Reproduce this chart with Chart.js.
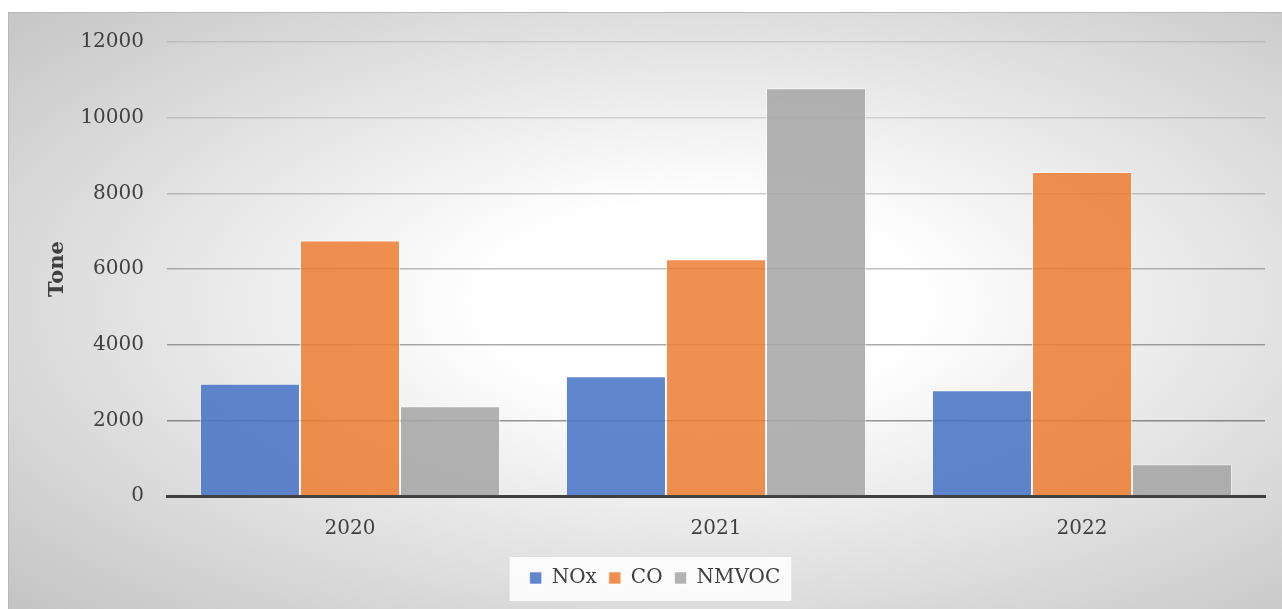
<!DOCTYPE html>
<html>
<head>
<meta charset="utf-8">
<title>Emissions by year</title>
<script src="https://cdn.jsdelivr.net/npm/chart.js@4.4.1/dist/chart.umd.min.js"></script>
<style>
  html, body { margin: 0; padding: 0; background: #ffffff; }
  #wrap { position: relative; width: 1282px; height: 609px; overflow: hidden; }
  #bg {
    position: absolute; left: 8px; top: 12px; width: 1290px; height: 610px;
    border-top: 1px solid #b8b8b8; border-left: 1px solid #b8b8b8;
    background: radial-gradient(ellipse farthest-corner at 692px 290px, #ffffff 0%, #ffffff 22%, #c2c2c2 100%);
  }
  #chart { position: absolute; left: 0; top: 0; }
</style>
</head>
<body>
<div id="wrap">
  <div id="bg"></div>
  <canvas id="chart" width="1282" height="609"></canvas>
</div>
<script>
// Data
const years = ['2020', '2021', '2022'];
const noxValues = [2970, 3165, 2795];
const coValues = [6755, 6260, 8565];
const nmvocValues = [2370, 10780, 840];

// Styles
const TEXT_COLOR = '#404040';
const SERIES_COLORS = {
  nox: 'rgba(68, 114, 196, 0.85)',
  co: 'rgba(237, 125, 49, 0.85)',
  nmvoc: 'rgba(165, 165, 165, 0.85)'
};
// gridlines get darker toward the bottom of the plot
const GRID_ALPHA = { 2000: 0.40, 4000: 0.33, 6000: 0.26, 8000: 0.19, 10000: 0.12, 12000: 0.10 };

/**
 * Paint the white box behind the legend items
 */
const legendBackground = {
  id: 'legendBackground',
  beforeDraw(chart) {
    const boxes = chart.legend && chart.legend.legendHitBoxes;
    if (!boxes || !boxes.length) return;
    const minX = Math.min(...boxes.map(b => b.left));
    const maxX = Math.max(...boxes.map(b => b.left + b.width));
    const top = boxes[0].top;
    const bottom = boxes[0].top + boxes[0].height;
    const ctx = chart.ctx;
    ctx.save();
    ctx.fillStyle = 'rgba(255, 255, 255, 0.85)';
    ctx.fillRect(minX - 20, top - 11, (maxX + 11) - (minX - 20), (bottom + 13) - (top - 11));
    ctx.restore();
  }
};

function makeDataset(label, data, color) {
  return {
    label: label,
    data: data,
    backgroundColor: color,
    borderColor: 'rgba(255, 255, 255, 0.55)',
    borderWidth: 1,
    barPercentage: 1.0,
    categoryPercentage: 0.82
  };
}

const ctx = document.getElementById('chart');

new Chart(ctx, {
  type: 'bar',
  data: {
    labels: years,
    datasets: [
      makeDataset('NOx', noxValues, SERIES_COLORS.nox),
      makeDataset('CO', coValues, SERIES_COLORS.co),
      makeDataset('NMVOC', nmvocValues, SERIES_COLORS.nmvoc)
    ]
  },
  options: {
    responsive: false,
    animation: false,
    devicePixelRatio: 1,
    layout: {
      padding: { left: 45, right: 17, top: 42, bottom: 11 }
    },
    plugins: {
      title: { display: false },
      tooltip: { enabled: false },
      legend: {
        position: 'bottom',
        labels: {
          color: TEXT_COLOR,
          boxWidth: 12,
          boxHeight: 12,
          padding: 12,
          font: { family: 'DejaVu Serif', size: 20 }
        }
      }
    },
    scales: {
      x: {
        grid: { display: false, drawTicks: false },
        border: { display: true, color: '#404040', width: 3 },
        ticks: {
          color: TEXT_COLOR,
          padding: 21,
          font: { family: 'DejaVu Serif', size: 20 }
        },
        afterFit(scale) { scale.height = 60; }
      },
      y: {
        min: 0,
        max: 12000,
        ticks: {
          stepSize: 2000,
          color: TEXT_COLOR,
          padding: 23,
          font: { family: 'DejaVu Serif', size: 20 },
          callback: value => String(value)
        },
        grid: {
          drawTicks: false,
          lineWidth: 1.5,
          color(c) {
            const a = GRID_ALPHA[c.tick.value];
            return a ? 'rgba(0, 0, 0, ' + a + ')' : 'rgba(0, 0, 0, 0)';
          }
        },
        border: { display: false },
        title: {
          display: true,
          text: 'Tone',
          color: TEXT_COLOR,
          padding: { top: 0, bottom: 0 },
          font: { family: 'DejaVu Serif', size: 21, weight: 'bold' }
        },
        afterFit(scale) { scale.width = 122; }
      }
    }
  },
  plugins: [legendBackground]
});
</script>
</body>
</html>
